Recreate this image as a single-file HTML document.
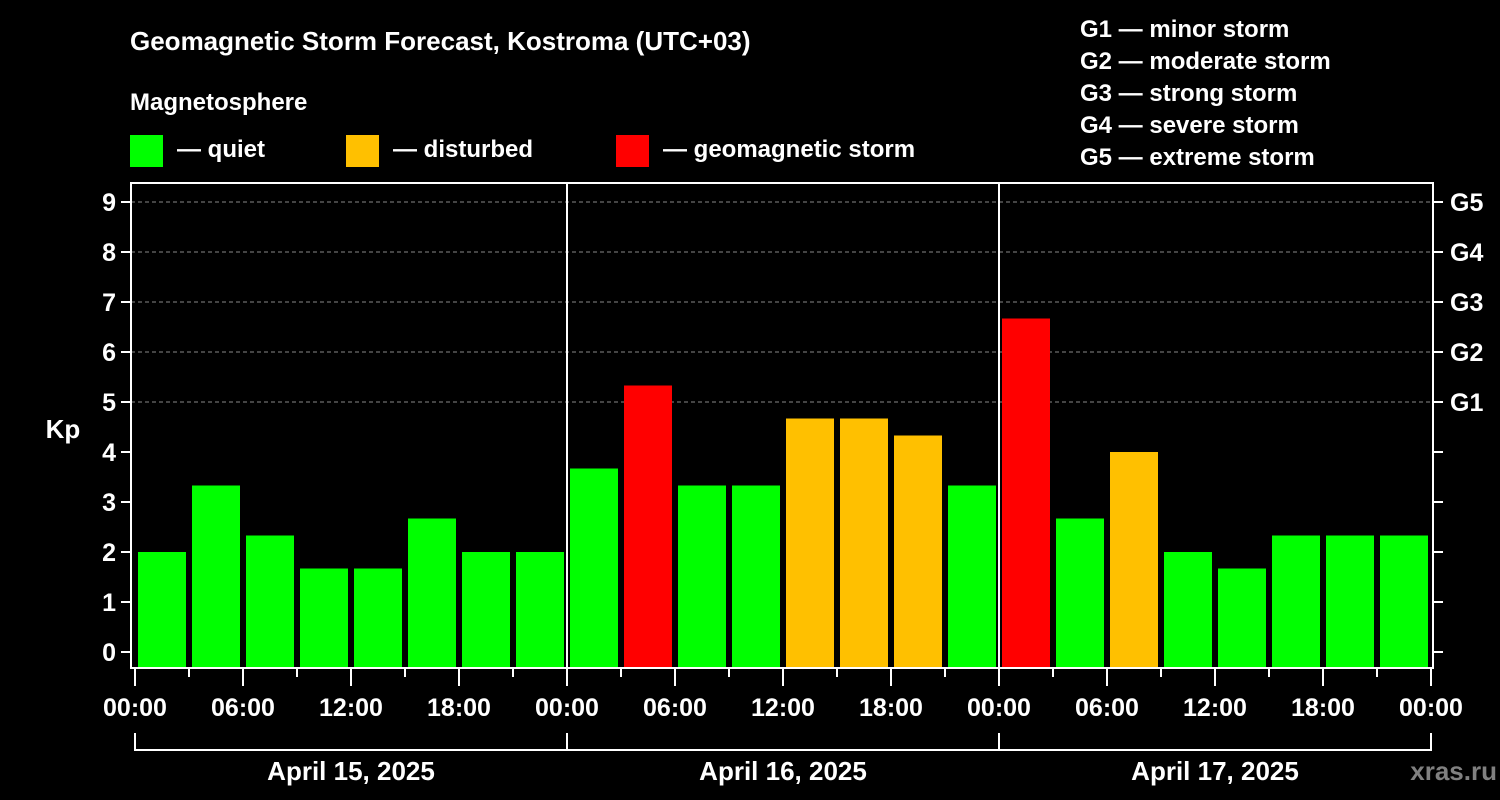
<!DOCTYPE html>
<html><head><meta charset="utf-8"><style>
html,body{margin:0;padding:0;background:#000;}
svg{display:block;font-family:"Liberation Sans",Arial,sans-serif;font-weight:bold;}
</style></head><body>
<svg id="chart" width="1500" height="800" viewBox="0 0 1500 800">
<rect width="1500" height="800" fill="#000"/>
<text x="130" y="50" fill="#fff" font-size="26">Geomagnetic Storm Forecast, Kostroma (UTC+03)</text>
<text x="130" y="110" fill="#fff" font-size="24">Magnetosphere</text>
<g><rect x="130" y="135" width="33" height="32" fill="#00ff00"/><text x="177" y="157" fill="#fff" font-size="24">— quiet</text></g>
<g><rect x="346" y="135" width="33" height="32" fill="#ffc000"/><text x="393" y="157" fill="#fff" font-size="24">— disturbed</text></g>
<g><rect x="616" y="135" width="33" height="32" fill="#ff0000"/><text x="663" y="157" fill="#fff" font-size="24">— geomagnetic storm</text></g>
<g fill="#fff" font-size="24">
<text x="1080" y="37">G1 — minor storm</text>
<text x="1080" y="69">G2 — moderate storm</text>
<text x="1080" y="101">G3 — strong storm</text>
<text x="1080" y="133">G4 — severe storm</text>
<text x="1080" y="165">G5 — extreme storm</text>
</g>
<text x="63" y="438" fill="#fff" font-size="26" text-anchor="middle">Kp</text>
<text x="1497" y="780" fill="#808080" font-size="26" text-anchor="end">xras.ru</text>
<g id="plot"></g>
</svg>
<script>
const kpValues = [2, 3.33, 2.33, 1.67, 1.67, 2.67, 2, 2, 3.67, 5.33, 3.33, 3.33, 4.67, 4.67, 4.33, 3.33, 6.67, 2.67, 4, 2, 1.67, 2.33, 2.33, 2.33];
const dayLabels = ["April 15, 2025", "April 16, 2025", "April 17, 2025"];
const timeLabels = ["00:00", "06:00", "12:00", "18:00"];
const yTicks = [0,1,2,3,4,5,6,7,8,9];
const gLevels = ["G1","G2","G3","G4","G5"];

const NS="http://www.w3.org/2000/svg";
const plot=document.getElementById('plot');
const x0=135, slot=54, y0=652, unit=50, frameL=131, frameR=1433, frameT=183, frameB=668;
const xs=i=>x0+i*slot;
const ys=v=>y0-v*unit;
function mk(tag,attrs,parent){const e=document.createElementNS(NS,tag);for(const k in attrs)e.setAttribute(k,attrs[k]);(parent||plot).appendChild(e);return e;}
function color(v){return v>=5?'#ff0000':(v>=4?'#ffc000':'#00ff00');}

// gridlines
for(let v=5;v<=9;v++){
  const l=mk('line',{x1:frameL,x2:frameR,y1:ys(v),y2:ys(v),stroke:'#888','stroke-dasharray':'4,3','stroke-width':1});
  
  
}
// bars
kpValues.forEach((v,i)=>{
  const r=mk('rect',{x:xs(i)+3,y:ys(v),width:48,height:frameB-ys(v),fill:color(v)});
  
  
});
// day separators
for(let d=1;d<dayLabels.length;d++){
  const l=mk('line',{x1:xs(d*8),x2:xs(d*8),y1:frameT,y2:frameB,stroke:'#fff','stroke-width':2});
  
  
}
// frame
const fr=mk('rect',{x:frameL,y:frameT,width:frameR-frameL,height:frameB-frameT,fill:'none',stroke:'#fff','stroke-width':2});


// y ticks
yTicks.forEach(v=>{
  mk('line',{x1:121,x2:frameL,y1:ys(v),y2:ys(v),stroke:'#fff','stroke-width':2});
  mk('line',{x1:frameR,x2:1443,y1:ys(v),y2:ys(v),stroke:'#fff','stroke-width':2});
  const t=mk('text',{x:116,y:ys(v)+9,fill:'#fff','font-size':25,'text-anchor':'end'});
  t.textContent=v;
  
  
});
gLevels.forEach((g,i)=>{
  const t=mk('text',{x:1450,y:ys(5+i)+9,fill:'#fff','font-size':25});
  t.textContent=g;
  
  
});
// x ticks
for(let i=0;i<=kpValues.length;i++){
  const major=i%2===0;
  mk('line',{x1:xs(i),x2:xs(i),y1:frameB+1,y2:major?686:677,stroke:'#fff','stroke-width':2});
  if(major){
    const t=mk('text',{x:xs(i),y:716,fill:'#fff','font-size':25,'text-anchor':'middle'});
    t.textContent=timeLabels[(i/2)%4];
    
    
  }
}
// day brackets
dayLabels.forEach((d,k)=>{
  const a=xs(k*8), b=xs(k*8+8);
  mk('path',{d:`M${a},733V750H${b}V733`,fill:'none',stroke:'#fff','stroke-width':2});
  const t=mk('text',{x:(a+b)/2,y:780,fill:'#fff','font-size':26,'text-anchor':'middle'});
  t.textContent=d;
  
  
});
</script>
</body></html>
